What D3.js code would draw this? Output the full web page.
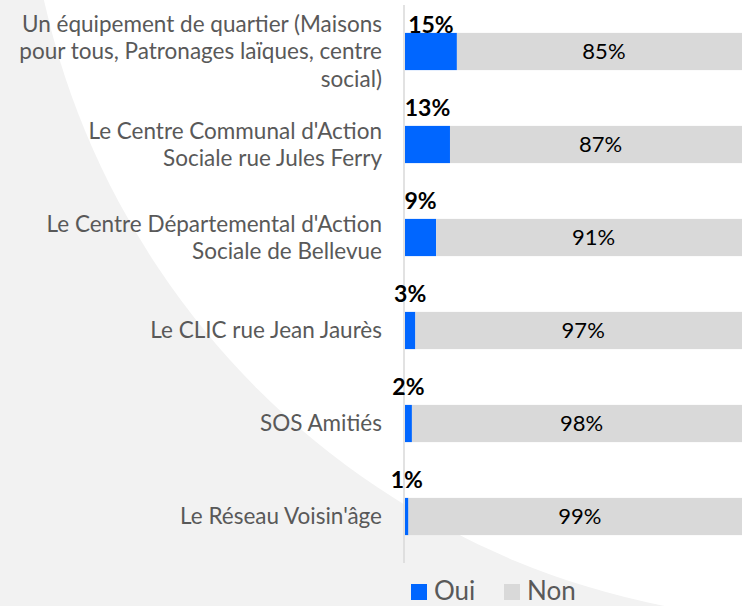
<!DOCTYPE html>
<html>
<head>
<meta charset="utf-8">
<script src="https://cdn.jsdelivr.net/npm/d3@7"></script>
<style>
  html, body { margin: 0; padding: 0; background: #f2f2f2; }
  #chart { width: 742px; height: 606px; overflow: hidden; }
  text { font-family: "Gill Sans", "Gill Sans MT", Lato, "Noto Sans", sans-serif; }
</style>
</head>
<body>
<div id="chart"></div>
<script>
// categories (line breaks as in the reference)
const categories = [
  ["Un équipement de quartier (Maisons", "pour tous, Patronages laïques, centre", "social)"],
  ["Le Centre Communal d'Action", "Sociale rue Jules Ferry"],
  ["Le Centre Départemental d'Action", "Sociale de Bellevue"],
  ["Le CLIC rue Jean Jaurès"],
  ["SOS Amitiés"],
  ["Le Réseau Voisin'âge"]
];
const oui = [15, 13, 9, 3, 2, 1];
const non = [85, 87, 91, 97, 98, 99];
const seriesNames = ["Oui", "Non"];
const seriesColors = ["#0066ff", "#d9d9d9"];

const W = 742, H = 606;
const margin = { top: 5, left: 405, right: -9, bottom: 43 };

const svg = d3.select("#chart").append("svg")
    .attr("width", W)
    .attr("height", H);

// fond : gris clair avec un grand disque blanc
svg.append("rect").attr("width", W).attr("height", H).attr("fill", "#f2f2f2");
svg.append("circle").attr("cx", 818).attr("cy", -172).attr("r", 793).attr("fill", "#ffffff");

const keys = categories.map((c, i) => i);

const y = d3.scaleBand()
    .domain(keys)
    .range([margin.top, H - margin.bottom])
    .paddingInner(0.6)
    .paddingOuter(0.3);

const x = d3.scaleLinear()
    .domain([0, 100])
    .range([margin.left, W - margin.right]);

// barres empilées
const rows = keys.map(i => ({ i, oui: oui[i], non: non[i] }));
const stack = d3.stack().keys(["oui", "non"])(rows);

svg.append("g").selectAll("g")
    .data(stack)
    .join("g")
    .attr("fill", (s, k) => seriesColors[k])
    .selectAll("rect")
    .data(s => s)
    .join("rect")
    .attr("x", d => x(d[0]))
    .attr("y", d => y(d.data.i))
    .attr("width", d => x(d[1]) - x(d[0]))
    .attr("height", y.bandwidth());

// axe vertical
svg.append("line")
    .attr("x1", margin.left - 1).attr("x2", margin.left - 1)
    .attr("y1", margin.top).attr("y2", H - margin.bottom)
    .attr("stroke", "#d9d9d9")
    .attr("stroke-width", 1.5);

// étiquettes des catégories
const lineH = 27.5;
svg.append("g").selectAll("text")
    .data(keys)
    .join("text")
    .attr("text-anchor", "end")
    .attr("fill", "#595959")
    .style("font-size", "22.5px")
    .each(function(i) {
        const lines = categories[i];
        const cy = y(i) + y.bandwidth() / 2;
        const first = cy - (lines.length - 1) * lineH / 2;
        d3.select(this).selectAll("tspan")
            .data(lines)
            .join("tspan")
            .attr("x", margin.left - 23)
            .attr("y", (l, j) => first + j * lineH)
            .attr("dy", "0.35em")
            .text(l => l);
    });

// valeurs Oui (au-dessus de la barre)
svg.append("g").selectAll("text")
    .data(rows)
    .join("text")
    .attr("text-anchor", "middle")
    .attr("fill", "#000")
    .style("font-size", "23px")
    .style("font-weight", "bold")
    .attr("x", d => (x(0) + x(d.oui)) / 2)
    .attr("y", d => Math.max(y(d.i) - 10, margin.top + 28))
    .text(d => d.oui + "%");

// valeurs Non (au centre du segment gris)
svg.append("g").selectAll("text")
    .data(rows)
    .join("text")
    .attr("text-anchor", "middle")
    .attr("fill", "#000")
    .style("font-size", "22px")
    .attr("x", d => (x(d.oui) + x(100)) / 2)
    .attr("y", d => y(d.i) + y.bandwidth() / 2)
    .attr("dy", "0.35em")
    .text(d => d.non + "%");

// légende
const legend = svg.append("g").attr("transform", "translate(411,584)");
const item = legend.selectAll("g")
    .data(seriesNames)
    .join("g")
    .attr("transform", (d, k) => `translate(${k * 93},0)`);
item.append("rect")
    .attr("width", 16).attr("height", 16)
    .attr("fill", (d, k) => seriesColors[k]);
item.append("text")
    .attr("x", 23).attr("y", 16)
    .attr("fill", "#595959")
    .style("font-size", "26px")
    .text(d => d);
</script>
</body>
</html>
